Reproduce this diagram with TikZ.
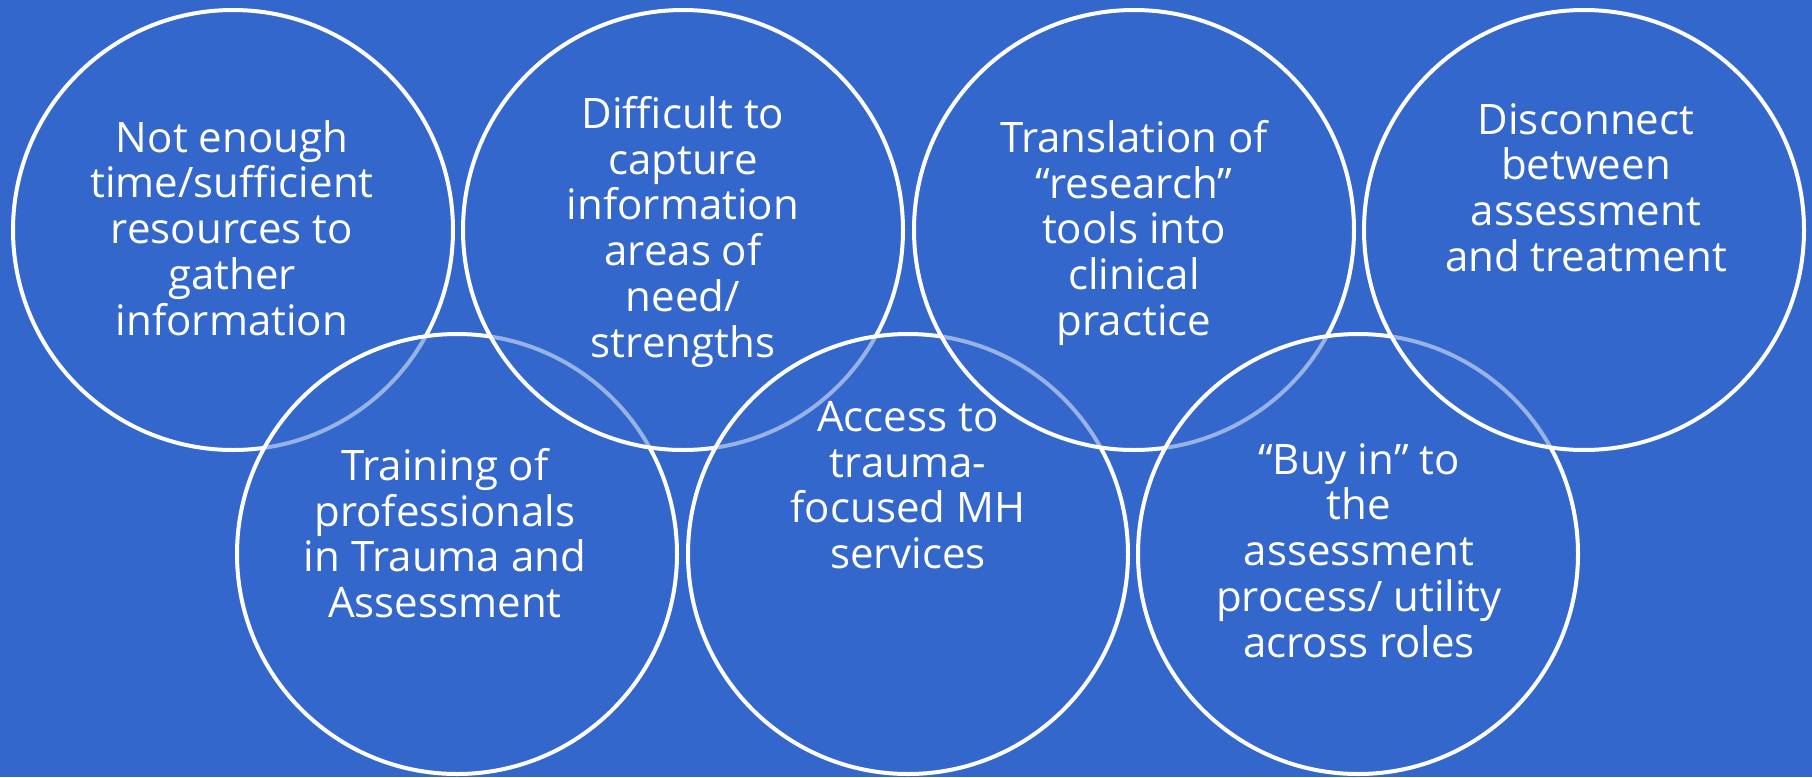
\documentclass[tikz,border=0pt]{standalone}
\usepackage{fontspec}
\setmainfont{Open Sans}
\definecolor{bgblue}{RGB}{52,103,204}
\begin{document}
\begin{tikzpicture}[x=1pt,y=-1pt,
  ring/.style={circle,draw=white,line width=4pt,fill=bgblue,fill opacity=0.5,
    draw opacity=1,minimum size=440pt,inner sep=0pt},
  ringtext/.style={text=white,align=center,anchor=north,inner sep=0pt,
    font=\fontsize{42}{45.75}\selectfont}]
  % background
  \fill[bgblue] (0,0) rectangle (1812,777);
  \useasboundingbox (0,0) rectangle (1812,777);
  % rings, interleaved top / bottom so each overlaps the previous one
  \node[ring] (c1) at (233,230) {};
  \node[ring] (c5) at (457,554) {};
  \node[ring] (c2) at (683,230) {};
  \node[ring] (c6) at (908,554) {};
  \node[ring] (c3) at (1134,230) {};
  \node[ring] (c7) at (1358,554) {};
  \node[ring] (c4) at (1584,230) {};
  % texts
  \node[ringtext] (t1) at (232,120) {Not enough\\time/sufficient\\resources to\\gather\\information};
  \node[ringtext] (t2) at (683,96) {Difficult to\\capture\\information\\areas of\\need/\\strengths};
  \node[ringtext] (t3) at (1134,120) {Translation of\\“research”\\tools into\\clinical\\practice};
  \node[ringtext] (t4) at (1586,103) {Disconnect\\between\\assessment\\and treatment};
  \node[ringtext] (t5) at (445,448) {Training of\\professionals\\in Trauma and\\Assessment};
  \node[ringtext] (t6) at (908,401) {Access to\\trauma-\\focused MH\\services};
  \node[ringtext] (t7) at (1359,443) {“Buy in” to\\the\\assessment\\process/ utility\\across roles};
\end{tikzpicture}
\end{document}
